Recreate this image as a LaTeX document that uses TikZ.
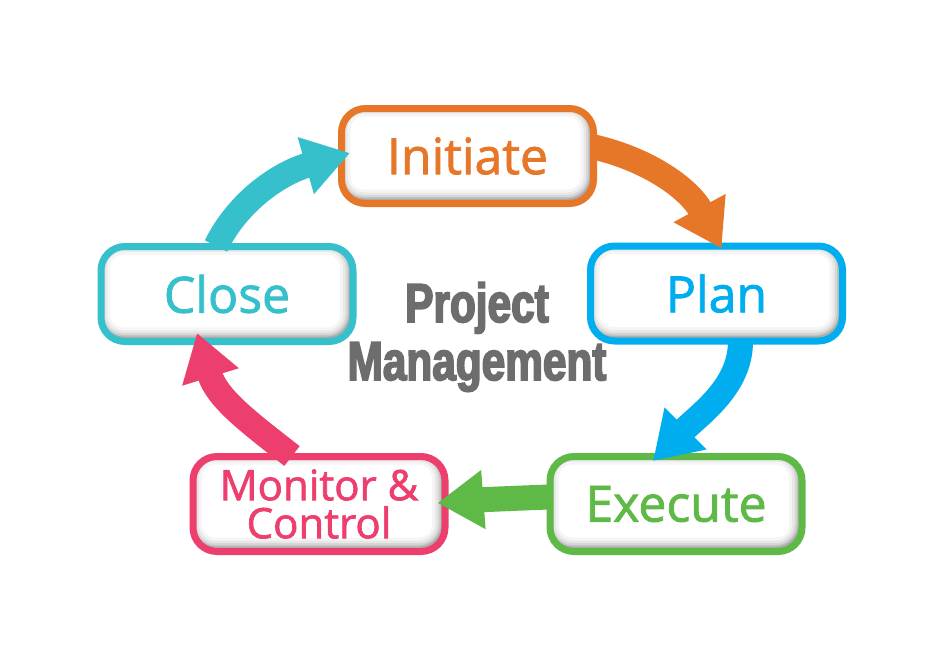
\documentclass[tikz,border=0pt]{standalone}
\usepackage{fontspec}
\setmainfont{Open Sans}[FakeBold=1.6]
\newfontfamily\pmtitle[FakeStretch=0.77,FakeBold=3]{Liberation Sans Bold}
\usetikzlibrary{arrows.meta,calc}
\definecolor{pmorange}{RGB}{231,119,40}
\definecolor{pmblue}{RGB}{0,174,239}
\definecolor{pmgreen}{RGB}{94,185,71}
\definecolor{pmpink}{RGB}{237,63,110}
\definecolor{pmteal}{RGB}{53,192,204}
\definecolor{pmgray}{RGB}{109,109,109}
\tikzset{
  pmbox/.style={draw=#1, line width=7pt, fill=white, rounded corners=24pt,
    text=#1, font=\fontsize{50}{40}\selectfont, minimum width=252pt,
    minimum height=95pt, inner sep=0pt, align=center,
    path picture={
      \foreach \w/\o in {22/0.04,16/0.05,11/0.07,7/0.09,4/0.12}{
        \draw[black, opacity=\o, line width=\w pt, rounded corners=24pt]
          ([xshift=-2pt,yshift=3pt]path picture bounding box.north west)
          rectangle ([xshift=-2pt,yshift=3pt]path picture bounding box.south east);
      }
    }},
  pmsmall/.style={font=\fontsize{42}{38}\selectfont},
  pmarrow/.style={draw=#1, line width=25pt,
    -{Triangle[length=46pt,width=56pt]}},
  pmcenter/.style={text=pmgray, font=\pmtitle\fontsize{55}{58}\selectfont,
    align=center, inner sep=0pt}
}
\begin{document}
\begin{tikzpicture}[x=1pt,y=-1pt]
  \useasboundingbox[fill=white] (0,0) rectangle (944,661);
  \node[pmbox=pmorange] (init) at (467.5,156) {Initiate};
  \node[pmbox=pmblue]   (plan) at (716.5,293.5) {Plan};
  \node[pmbox=pmgreen]  (exec) at (676,504) {Execute};
  \node[pmbox=pmpink, pmsmall] (mon)  at (319,504) {Monitor \&\\Control};
  \node[pmbox=pmteal]   (close) at (227,294) {Close};
  \node[pmcenter] (title) at (477,337) {Project\\Management};
  % arrows
  \draw[pmarrow=pmorange] ([xshift=-3pt,yshift=9pt]init.east)
     .. controls +(56,13) and +(-32,-59) .. ([xshift=5pt,yshift=-6pt]plan.north);
  \draw[pmarrow=pmblue] ([xshift=24pt,yshift=3pt]plan.south)
     .. controls +(0,45) and +(47,-47) .. ([xshift=-23pt,yshift=-8pt]exec.north);
  \draw[pmarrow=pmgreen] ([xshift=3pt,yshift=7pt]exec.west)
     .. controls +(-30,1) and +(40,-3) .. ([xshift=-11pt,yshift=1pt]mon.east);
  \draw[pmarrow=pmpink] ([xshift=-27pt,yshift=-3pt]mon.north)
     .. controls +(-45,-35) and +(20,65) .. ([xshift=-30pt,yshift=12pt]close.south);
  \draw[pmarrow=pmteal] ([xshift=-11pt,yshift=-3pt]close.north)
     .. controls +(22,-45) and +(-70,20) .. ([xshift=12pt,yshift=3pt]init.west);
\end{tikzpicture}
\end{document}
